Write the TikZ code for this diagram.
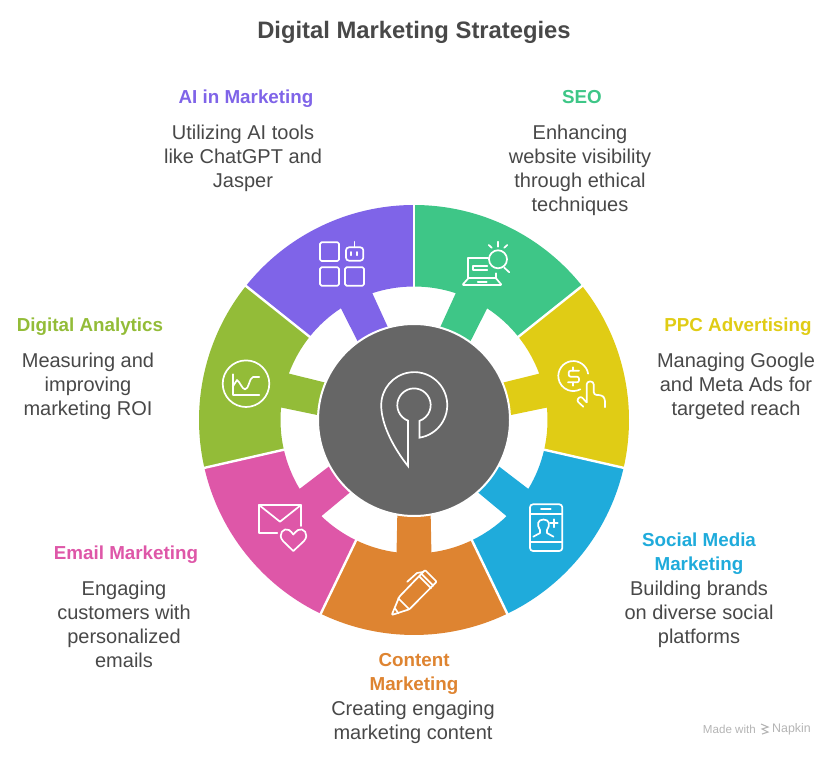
\documentclass[tikz,border=0pt]{standalone}
\usepackage{fontspec}
\setmainfont{Liberation Sans}
\usepackage{xcolor}
\definecolor{txtgray}{HTML}{484848}
\definecolor{hubgray}{HTML}{666666}
\definecolor{aipurple}{HTML}{7F64E8}
\definecolor{seogreen}{HTML}{3EC687}
\definecolor{ppcyellow}{HTML}{E0CC15}
\definecolor{socialblue}{HTML}{1FABDB}
\definecolor{contentorange}{HTML}{DE8431}
\definecolor{emailpink}{HTML}{DE57A8}
\definecolor{analyticsolive}{HTML}{93BC38}
\definecolor{markgray}{HTML}{B4B4B4}
\usetikzlibrary{positioning}
\tikzset{
	headtxt/.style={align=center,inner sep=0pt,font=\fontsize{18.8}{24}\selectfont\bfseries,execute at begin node=\strut,execute at end node=\strut},
	desctxt/.style={align=center,inner sep=0pt,text=txtgray,font=\fontsize{20}{24}\selectfont,execute at begin node=\strut,execute at end node=\strut},
	icon/.style={draw=white,line width=1.7pt,line cap=round,line join=round},
	pix/.style={yshift=756pt,y=-1pt},
}
% one ring piece, #1 colour, #2 start angle
\newcommand{\ringpiece}[2]{%
	\fill[#1] (#2:215) arc (#2:#2+51.43:215) -- (#2+51.43:133.5)
	arc (#2+51.43:#2+33.2:133.5) -- (#2+35.7:96) -- (#2+15.7:96) -- (#2+18.2:133.5)
	arc (#2+18.2:#2:133.5) -- cycle;
}
\begin{document}
\begin{tikzpicture}[x=1pt,y=1pt]
	\useasboundingbox (0,0) rectangle (834,756);
	
	% draw ring
	\begin{scope}[shift={(414,336)}]
		\ringpiece{seogreen}{38.57}
		\ringpiece{ppcyellow}{-12.86}
		\ringpiece{socialblue}{-64.29}
		\ringpiece{contentorange}{-115.71}
		\ringpiece{emailpink}{-167.14}
		\ringpiece{analyticsolive}{141.43}
		\ringpiece{aipurple}{90}
		%gaps between pieces
		\foreach \ang in {90,38.57,-12.86,-64.29,-115.71,-167.14,141.43}
			\draw[white,line width=2.4pt] (\ang:130) -- (\ang:217);
		%hub
		\fill[hubgray,draw=white,line width=2pt] (0,0) circle (96);
	\end{scope}
	
	% draw texts
	\node[font=\fontsize{23.8}{28}\selectfont\bfseries,text=txtgray,inner sep=0pt,execute at begin node=\strut] (title) at (414,723) {Digital Marketing Strategies};
	
	\node[headtxt,text=aipurple] (aihead) at (246,657.5) {AI in Marketing};
	\node[desctxt] (aitxt) at (243,596) {Utilizing AI tools\\like ChatGPT and\\Jasper};
	
	\node[headtxt,text=seogreen] (seohead) at (582,657.5) {SEO};
	\node[desctxt] (seotxt) at (580,584) {Enhancing\\website visibility\\through ethical\\techniques};
	
	\node[headtxt,text=ppcyellow] (ppchead) at (738,429.5) {PPC Advertising};
	\node[desctxt] (ppctxt) at (736,368) {Managing Google\\and Meta Ads for\\targeted reach};
	
	\node[headtxt,text=analyticsolive] (analyticshead) at (90,429.5) {Digital Analytics};
	\node[desctxt] (analyticstxt) at (88,368) {Measuring and\\improving\\marketing ROI};
	
	\node[headtxt,text=emailpink] (emailhead) at (126,201.5) {Email Marketing};
	\node[desctxt] (emailtxt) at (124,128) {Engaging\\customers with\\personalized\\emails};
	
	\node[headtxt,text=socialblue] (socialhead) at (699,200.5) {Social Media\\Marketing};
	\node[desctxt] (socialtxt) at (699,140) {Building brands\\on diverse social\\platforms};
	
	\node[headtxt,text=contentorange] (contenthead) at (414,80.5) {Content\\Marketing};
	\node[desctxt] (contenttxt) at (413,32) {Creating engaging\\marketing content};
	
	\node[text=markgray,inner sep=0pt,font=\fontsize{11.6}{13}\selectfont,anchor=east] (madewith) at (756,26.5) {Made with};
	\node[text=markgray,inner sep=0pt,font=\fontsize{12.4}{13}\selectfont,anchor=west] (napkin) at (772,26.5) {Napkin};
	
	% draw icons, in picture pixels
	\begin{scope}[pix]
		%AI tools
		\draw[icon,rounded corners=1.5pt] (320,242.3) rectangle (339,261);
		\draw[icon,rounded corners=1.5pt] (320,267.3) rectangle (339,285.7);
		\draw[icon,rounded corners=1.5pt] (345,267.3) rectangle (364,285.7);
		\draw[icon,rounded corners=3pt] (346,247.3) rectangle (363.3,260.7);
		\draw[icon] (354.6,241.7) -- (354.6,247.3);
		\draw[icon] (351.3,252) -- (351.3,255.3);
		\draw[icon] (357.3,252) -- (357.3,255.3);
		
		%analytics
		\draw[icon] (246,383.7) circle (23.3);
		\draw[icon] (232.7,374.3) -- (232.7,395) -- (259.3,395);
		\draw[icon] (232.7,386.7) -- (237,380) .. controls (240,382) and (242,389) .. (245,389.3) .. controls (249,389.5) and (249,378) .. (253,377) -- (259.3,377);
		
		%seo
		\draw[icon] (488.3,257.7) -- (468.3,257.7) -- (468.3,278.3) -- (496,278.3) -- (496,273.3);
		\draw[icon,rounded corners=1pt] (468.3,278.3) -- (462.3,285) -- (501.7,285) -- (496,278.3);
		\draw[icon] (487.3,265.7) -- (473.3,265.7) -- (473.3,270.3) -- (487.3,270.3);
		\draw[icon] (477.7,281.7) -- (486.7,281.7);
		\draw[icon] (498,259.3) circle (9);
		\draw[icon] (504.3,267.7) -- (509.3,272.3);
		\draw[icon] (497.7,241.7) -- (497.7,246.7);
		\draw[icon] (488.7,245) -- (491.7,247.7);
		\draw[icon] (507.3,245) -- (504.3,247.7);
		
		%ppc
		\draw[icon] (588.1,373.7) arc (-9:-298:15);
		\draw[icon,rounded corners=2pt] (579,370.7) -- (568.7,370.7) -- (568.7,376.7) -- (579,376.7) -- (579,382.3) -- (568,382.3);
		\draw[icon] (573.3,367.3) -- (573.3,370.7);
		\draw[icon] (573.3,382.3) -- (573.3,385.7);
		\draw[icon,rounded corners=3pt] (586.7,402.3) -- (586.7,381.5) -- (593.7,381.5) -- (593.7,395) -- (601.7,395) -- (605,398.3) -- (605,407.3);
		\draw[icon,rounded corners=2.5pt] (583.3,406.7) -- (576.5,400.5) -- (580.5,396) -- (586.7,402.3);
		
		%email
		\draw[icon] (277.3,533.3) -- (259,533.3) -- (259,505) -- (301,505) -- (301,526);
		\draw[icon] (259,505) -- (280,521.7) -- (301,505);
		\draw[icon] (293.3,551) -- (283,541) .. controls (277,534) and (284,527) .. (289,530) .. controls (291,531) and (292,533) .. (293.3,534.5) .. controls (295,533) and (296,531) .. (298,530) .. controls (303,527) and (310,534) .. (304,541) -- cycle;
		
		%content
		\draw[icon,rounded corners=1pt] (425,570) -- (436.7,581.7) -- (409.3,609.3) -- (391.7,615) -- (399.3,596.7) -- cycle;
		\draw[icon] (398.3,598.3) -- (408.3,608.3);
		\draw[icon] (421.7,574) -- (433.3,585.7);
		\draw[icon] (419.3,576.5) -- (431,588.2);
		\draw[icon] (407.3,581.7) -- (417,573) -- (423,572);
		\draw[icon] (395,608.3) -- (398.3,613.3);
		
		%social
		\draw[icon,rounded corners=3pt] (530,504.3) rectangle (562.3,551);
		\draw[icon] (530,514.3) -- (562.3,514.3);
		\draw[icon] (530,542.3) -- (562.3,542.3);
		\draw[icon] (541,509) -- (550.7,509);
		\draw[icon] (533.3,536.7) -- (540,533) -- (540,530) .. controls (536.5,525) and (537.5,519.5) .. (543.5,519.5) .. controls (549.5,519.5) and (550.5,525) .. (547,530) -- (547,533) -- (553.5,536.7);
		\draw[icon] (550,523.3) -- (557.7,523.3);
		\draw[icon] (554,519.3) -- (554,527.3);
		
		%hub mark
		\draw[icon,line cap=butt,line join=miter] (408,466) -- (408,420.7) arc (111:431:16.7) -- (419.4,437.7) arc (81:-180:33) .. controls (381,425) and (395,450) .. (408,466) -- cycle;
		
		%made with mark
		\draw[markgray,line width=1.1pt] (761,724) -- (768,727) -- (762,729) -- (768,732) -- (762,734);
	\end{scope}
\end{tikzpicture}
\end{document}
